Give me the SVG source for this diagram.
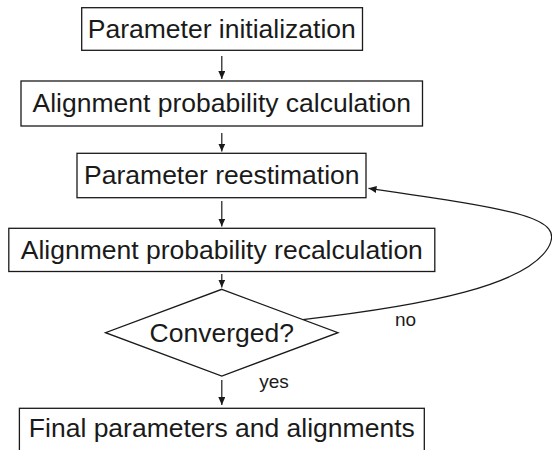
<svg xmlns="http://www.w3.org/2000/svg" width="552" height="450" viewBox="0 0 552 450">
<style>
.box{fill:#fff;stroke:#1a1a1a;stroke-width:1.3}
.t{font-family:"Liberation Sans",Arial,sans-serif;font-size:26.5px;fill:#1a1a1a;text-anchor:middle}
.s{font-family:"Liberation Sans",Arial,sans-serif;font-size:19px;fill:#1a1a1a}
.c{fill:none;stroke:#1a1a1a;stroke-width:1.2}
</style>
<defs>
<marker id="ah" markerUnits="userSpaceOnUse" markerWidth="8" markerHeight="7" refX="8" refY="3.5" orient="auto">
<path d="M0,0 L8,3.5 L0,7 z" fill="#1a1a1a"/>
</marker>
</defs>
<rect width="552" height="450" fill="#fff"/>
<g id="connectors">
<line class="c" x1="221.8" y1="56" x2="221.8" y2="79" marker-end="url(#ah)"/>
<line class="c" x1="221.8" y1="133" x2="221.8" y2="151.5" marker-end="url(#ah)"/>
<line class="c" x1="221.8" y1="201" x2="221.8" y2="226.5" marker-end="url(#ah)"/>
<line class="c" x1="221.8" y1="274" x2="221.8" y2="287.5" marker-end="url(#ah)"/>
<line class="c" x1="221.8" y1="380" x2="221.8" y2="405" marker-end="url(#ah)"/>
<path class="c" d="M302.8,319.6 C430,305 525,285 548,248 C566,218 520,210 368.5,188.3" marker-end="url(#ah)"/>
<text class="s" x="395" y="325.7">no</text>
<text class="s" x="259.3" y="388.3">yes</text>
</g>
<g id="n1"><rect class="box" x="81.7" y="7.7" width="280.8" height="42.6"/><text class="t" x="221.8" y="38.3">Parameter initialization</text></g>
<g id="n2"><rect class="box" x="21" y="81" width="401.5" height="45"/><text class="t" x="221.8" y="111.8">Alignment probability calculation</text></g>
<g id="n3"><rect class="box" x="77" y="153.3" width="289" height="44.4"/><text class="t" x="221.8" y="184">Parameter reestimation</text></g>
<g id="n4"><rect class="box" x="8.8" y="228.3" width="426" height="43.2"/><text class="t" x="221.8" y="259">Alignment probability recalculation</text></g>
<g id="n5"><polygon class="box" points="221.8,289.3 338,332.7 221.8,376 105.5,332.7"/><text class="t" x="221.8" y="341.7">Converged?</text></g>
<g id="n6"><rect class="box" x="19.4" y="408.3" width="404.9" height="50"/><text class="t" x="221.8" y="437">Final parameters and alignments</text></g>
</svg>
